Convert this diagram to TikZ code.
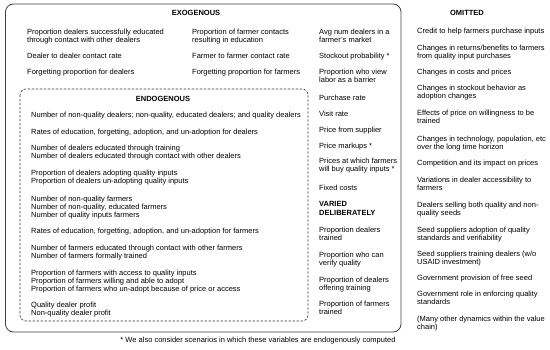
\documentclass[tikz,border=0pt]{standalone}
\usepackage{fontspec}
\setmainfont{Liberation Sans}
\begin{document}
\begin{tikzpicture}[x=1pt,y=-1pt,
  txt/.style={anchor=north west,inner sep=0pt,align=left,font=\fontsize{7.5}{7.9}\selectfont},
  ttl/.style={inner sep=0pt,font=\fontsize{7.5}{9}\selectfont\bfseries},
  outerbox/.style={draw=black!75,line width=0.8pt,rounded corners=8pt},
  innerbox/.style={draw=black!80,line width=0.6pt,dashed,dash pattern=on 2.4pt off 1.6pt,rounded corners=6pt}]
\useasboundingbox (0,0) rectangle (550,350);
\draw[outerbox] (5.5,4) rectangle (401,332);
\draw[innerbox] (20,89) rectangle (308,321);
% titles
\node[ttl] (exo) at (196,13.3) {EXOGENOUS};
\node[ttl] (endo) at (163,99) {ENDOGENOUS};
\node[ttl] (omit) at (467,13.3) {OMITTED};
% exogenous column 1
\node[txt] (e1) at (27,29) {Proportion dealers successfully educated\\through contact with other dealers};
\node[txt] (e2) at (27,53.3) {Dealer to dealer contact rate};
\node[txt] (e3) at (27,69) {Forgetting proportion for dealers};
% exogenous column 2
\node[txt] (f1) at (192,28.5) {Proportion of farmer contacts\\resulting in education};
\node[txt] (f2) at (192,53) {Farmer to farmer contact rate};
\node[txt] (f3) at (192,68.7) {Forgetting proportion for farmers};
% exogenous column 3
\node[txt] (g1) at (319,28.5) {Avg num dealers in a\\farmer's market};
\node[txt] (g2) at (319,52.5) {Stockout probability *};
\node[txt] (g3) at (319,68.5) {Proportion who view\\labor as a barrier};
\node[txt] (g4) at (319,94.5) {Purchase rate};
\node[txt] (g5) at (319,110.6) {Visit rate};
\node[txt] (g6) at (319,126.6) {Price from supplier};
\node[txt] (g7) at (319,143) {Price markups *};
\node[txt] (g8) at (319,158.3) {Prices at which farmers\\will buy quality inputs *};
\node[txt] (g9) at (319,184.6) {Fixed costs};
\node[txt,font=\fontsize{7.5}{9}\selectfont\bfseries] (var) at (319,201.6) {VARIED\\DELIBERATELY};
\node[txt] (v1) at (319,226.6) {Proportion dealers\\trained};
\node[txt] (v2) at (319,251.6) {Proportion who can\\verify quality};
\node[txt] (v3) at (319,276.6) {Proportion of dealers\\offering training};
\node[txt] (v4) at (319,301.3) {Proportion of farmers\\trained};
% endogenous
\node[txt] (n1) at (31,112.3) {Number of non-quality dealers; non-quality, educated dealers; and quality dealers};
\node[txt] (n2) at (31,129.3) {Rates of education, forgetting, adoption, and un-adoption for dealers};
\node[txt] (n3) at (31,145) {Number of dealers educated through training\\Number of dealers educated through contact with other dealers};
\node[txt] (n4) at (31,170) {Proportion of dealers adopting quality inputs\\Proportion of dealers un-adopting quality inputs};
\node[txt] (n5) at (31,195.6) {Number of non-quality farmers\\Number of non-quality, educated farmers\\Number of quality inputs farmers};
\node[txt] (n6) at (31,228) {Rates of education, forgetting, adoption, and un-adoption for farmers};
\node[txt] (n7) at (31,244.6) {Number of farmers educated through contact with other farmers\\Number of farmers formally trained};
\node[txt] (n8) at (31,269.6) {Proportion of farmers with access to quality inputs\\Proportion of farmers willing and able to adopt\\Proportion of farmers who un-adopt because of price or access};
\node[txt] (n9) at (31,302.3) {Quality dealer profit\\Non-quality dealer profit};
% omitted
\node[txt] (o1) at (417,28) {Credit to help farmers purchase inputs};
\node[txt] (o2) at (417,44.6) {Changes in returns/benefits to farmers\\from quality input purchases};
\node[txt] (o3) at (417,69) {Changes in costs and prices};
\node[txt] (o4) at (417,85) {Changes in stockout behavior as\\adoption changes};
\node[txt] (o5) at (417,110.3) {Effects of price on willingness to be\\trained};
\node[txt] (o6) at (417,135.6) {Changes in technology, population, etc\\over the long time horizon};
\node[txt] (o7) at (417,159.6) {Competition and its impact on prices};
\node[txt] (o8) at (417,176.6) {Variations in dealer accessibility to\\farmers};
\node[txt] (o9) at (417,201.6) {Dealers selling both quality and non-\\quality seeds};
\node[txt] (o10) at (417,226.6) {Seed suppliers adoption of quality\\standards and verifiability};
\node[txt] (o11) at (417,250.6) {Seed suppliers training dealers (w/o\\USAID investment)};
\node[txt] (o12) at (417,275) {Government provision of free seed};
\node[txt] (o13) at (417,291.3) {Government role in enforcing quality\\standards};
\node[txt] (o14) at (417,315.6) {(Many other dynamics within the value\\chain)};
% footnote
\node[inner sep=0pt,font=\fontsize{7.5}{8}\selectfont] (fn) at (258,341) {* We also consider scenarios in which these variables are endogenously computed};
\end{tikzpicture}
\end{document}
